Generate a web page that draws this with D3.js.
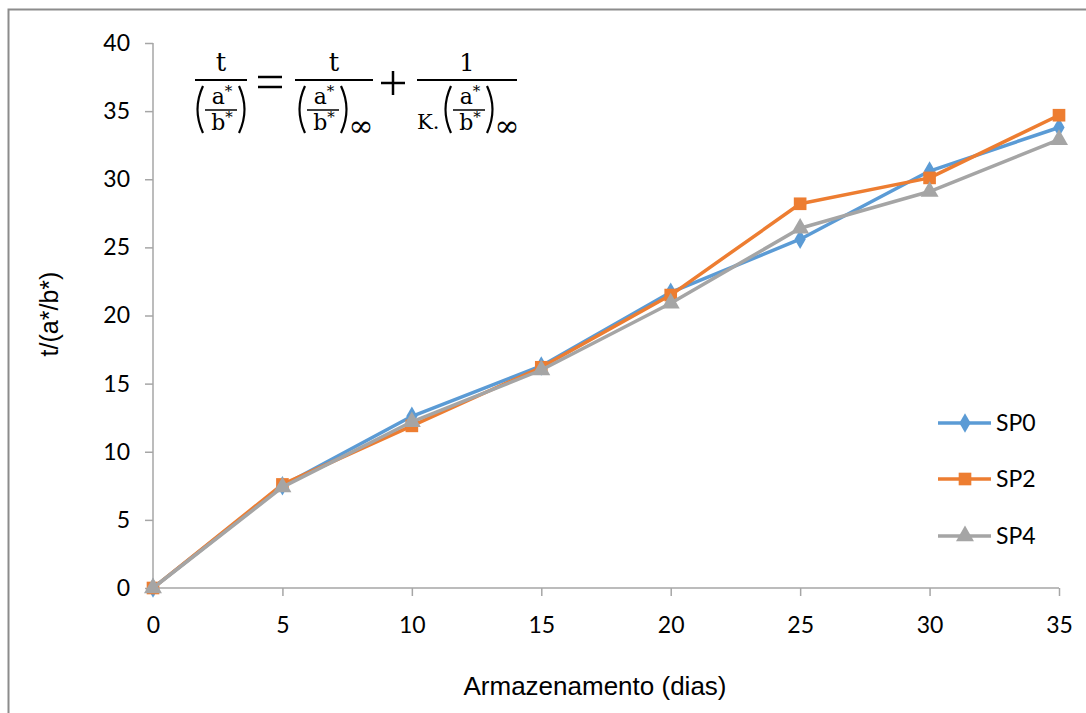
<!DOCTYPE html>
<html>
<head>
<meta charset="utf-8">
<script src="https://cdn.jsdelivr.net/npm/d3@7"></script>
<style>
  body { margin: 0; background: #fff; }
  svg { display: block; }
</style>
</head>
<body>
<svg id="chart"></svg>
<script>
// values
var dias = [0, 5, 10, 15, 20, 25, 30, 35];
var sp0 = [0, 7.5, 12.6, 16.3, 21.7, 25.6, 30.6, 33.8];
var sp2 = [0, 7.6, 11.9, 16.2, 21.5, 28.2, 30.1, 34.7];
var sp4 = [0, 7.4, 12.2, 16.0, 20.9, 26.4, 29.1, 32.9];
var seriesNames = ["SP0", "SP2", "SP4"];
var yTicks = [0, 5, 10, 15, 20, 25, 30, 35, 40];
var xTicks = [0, 5, 10, 15, 20, 25, 30, 35];

var width = 1086;
var height = 713;

var svg = d3.select("#chart")
  .attr("width", width)
  .attr("height", height);

// outer border of the chart area (runs off the right and bottom edges)
svg.append("rect")
  .attr("x", 8.5)
  .attr("y", 9.5)
  .attr("width", 1200)
  .attr("height", 800)
  .attr("fill", "none")
  .attr("stroke", "#8c8c8c")
  .attr("stroke-width", 2);

var x = d3.scaleLinear().domain([0, 35]).range([153, 1059]);
var y = d3.scaleLinear().domain([0, 40]).range([588, 43]);

var axisColor = "#a6a6a6";
var tickFont = "Lato, 'Open Sans', sans-serif";

// y axis
var yAxis = svg.append("g")
  .attr("transform", "translate(153,0)")
  .call(d3.axisLeft(y).tickValues(yTicks).tickSize(8).tickPadding(15));
// x axis
var xAxis = svg.append("g")
  .attr("transform", "translate(0,588)")
  .call(d3.axisBottom(x).tickValues(xTicks).tickSize(8).tickPadding(21));

[yAxis, xAxis].forEach(function(a)
{
  a.select(".domain").attr("stroke", axisColor).attr("stroke-width", 1.5);
  a.selectAll(".tick line").attr("stroke", axisColor).attr("stroke-width", 1.5);
  a.selectAll(".tick text")
    .attr("fill", "#000")
    .style("font-family", tickFont)
    .style("font-size", "23px");
});
// domain paths have outer ticks of 8px, remove them
yAxis.select(".domain").attr("d", "M0," + y(40) + "V" + y(0));
xAxis.select(".domain").attr("d", "M" + x(0) + ",0H" + x(35));

// axis titles
svg.append("text")
  .attr("x", 595)
  .attr("y", 695)
  .attr("text-anchor", "middle")
  .style("font-family", "'Liberation Sans', Arial, sans-serif")
  .style("font-size", "26px")
  .text("Armazenamento (dias)");

svg.append("text")
  .attr("transform", "translate(58,314) rotate(-90)")
  .attr("text-anchor", "middle")
  .style("font-family", "'Liberation Sans', Arial, sans-serif")
  .style("font-size", "25px")
  .text("t/(a*/b*)");

// series
var colors = ["#5b9bd5", "#ed7d31", "#a5a5a5"];
var values = [sp0, sp2, sp4];
var series = seriesNames.map(function(name, i)
{
  return {
    name: name,
    color: colors[i],
    symbol: [d3.symbolDiamond, d3.symbolSquare, d3.symbolTriangle][i],
    size: [110, 160, 140][i],
    points: dias.map(function(d, j) { return {x: d, y: values[i][j]}; })
  };
});

var line = d3.line()
  .x(function(d) { return x(d.x); })
  .y(function(d) { return y(d.y); });

series.forEach(function(s)
{
  var g = svg.append("g");
  g.append("path")
    .attr("d", line(s.points))
    .attr("fill", "none")
    .attr("stroke", s.color)
    .attr("stroke-width", 3.5)
    .attr("stroke-linejoin", "round");
  g.selectAll("path.mark")
    .data(s.points)
    .enter()
    .append("path")
    .attr("class", "mark")
    .attr("transform", function(d) { return "translate(" + x(d.x) + "," + y(d.y) + ")"; })
    .attr("d", d3.symbol().type(s.symbol).size(s.size))
    .attr("fill", s.color);
});

// legend
var legendY = [423, 479, 536];
series.forEach(function(s, i)
{
  var g = svg.append("g").attr("transform", "translate(0," + legendY[i] + ")");
  g.append("line")
    .attr("x1", 938).attr("x2", 991)
    .attr("stroke", s.color)
    .attr("stroke-width", 3.5);
  g.append("path")
    .attr("transform", "translate(965,0)")
    .attr("d", d3.symbol().type(s.symbol).size(s.size))
    .attr("fill", s.color);
  g.append("text")
    .attr("x", 996)
    .attr("y", 8)
    .style("font-family", tickFont)
    .style("font-size", "23px")
    .text(s.name);
});

// formula  t/(a*/b*) = t/(a*/b*)inf + 1/(K.(a*/b*)inf)
var serif = "'DejaVu Serif', 'Liberation Serif', serif";
var fg = svg.append("g").attr("stroke-linecap", "butt");

var fracBar = function(x1, x2)
{
  fg.append("line")
    .attr("x1", x1).attr("x2", x2)
    .attr("y1", 80).attr("y2", 80)
    .attr("stroke", "#000").attr("stroke-width", 2);
};

var bigText = function(tx, ty, str, size)
{
  fg.append("text")
    .attr("x", tx).attr("y", ty)
    .attr("text-anchor", "middle")
    .style("font-family", serif)
    .style("font-size", size + "px")
    .text(str);
};

var star = function(tx, ty, letter)
{
  var t = fg.append("text")
    .attr("x", tx).attr("y", ty)
    .attr("text-anchor", "middle")
    .style("font-family", serif)
    .style("font-size", "22px");
  t.append("tspan").text(letter);
  t.append("tspan").attr("dy", -8).style("font-size", "15px").text("*");
};

// parenthesised a*/b* fraction, left edge at px, width w
var parenFrac = function(px, w)
{
  var top = 86, bot = 133, mid = (top + bot) / 2;
  fg.append("path")
    .attr("d", "M" + (px + 8) + "," + top + "Q" + (px - 3) + "," + mid + " " + (px + 8) + "," + bot)
    .attr("fill", "none").attr("stroke", "#000").attr("stroke-width", 2.2);
  fg.append("path")
    .attr("d", "M" + (px + w - 8) + "," + top + "Q" + (px + w + 3) + "," + mid + " " + (px + w - 8) + "," + bot)
    .attr("fill", "none").attr("stroke", "#000").attr("stroke-width", 2.2);
  fg.append("line")
    .attr("x1", px + 10).attr("x2", px + w - 10)
    .attr("y1", 110).attr("y2", 110)
    .attr("stroke", "#000").attr("stroke-width", 1.5);
  star(px + w / 2 + 1, 104, "a");
  star(px + w / 2 + 1, 130, "b");
};

// left term
fracBar(195, 247);
bigText(221, 71, "t", 26);
parenFrac(195, 52);

// equals
fg.append("line").attr("x1", 258).attr("x2", 282).attr("y1", 77).attr("y2", 77)
  .attr("stroke", "#000").attr("stroke-width", 2.5);
fg.append("line").attr("x1", 258).attr("x2", 282).attr("y1", 87).attr("y2", 87)
  .attr("stroke", "#000").attr("stroke-width", 2.5);

// second term
fracBar(295, 373);
bigText(334, 71, "t", 26);
parenFrac(297, 52);
bigText(361, 136, "\u221e", 30);

// plus
fg.append("line").attr("x1", 381).attr("x2", 405).attr("y1", 83).attr("y2", 83)
  .attr("stroke", "#000").attr("stroke-width", 2.5);
fg.append("line").attr("x1", 393).attr("x2", 393).attr("y1", 71).attr("y2", 95)
  .attr("stroke", "#000").attr("stroke-width", 2.5);

// third term
fracBar(417, 517);
bigText(467, 71, "1", 24);
fg.append("text")
  .attr("x", 417).attr("y", 129)
  .style("font-family", serif)
  .style("font-size", "21px")
  .text("K.");
parenFrac(443, 52);
bigText(507, 136, "\u221e", 30);
</script>
</body>
</html>
